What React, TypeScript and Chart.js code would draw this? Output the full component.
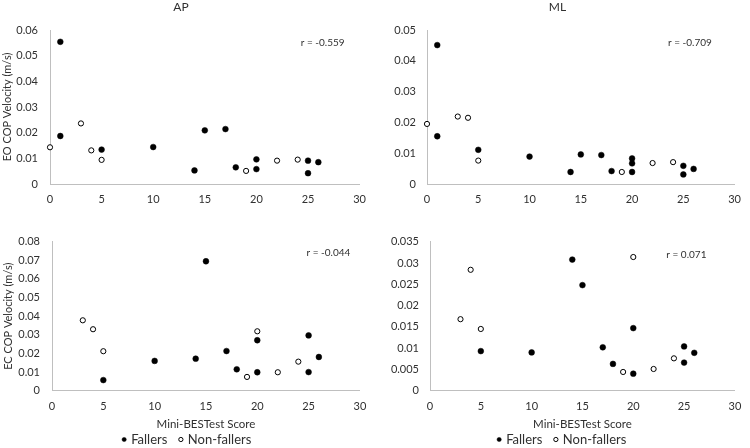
import React, { useEffect, useRef } from "react";
import { Chart, registerables } from "chart.js";

Chart.register(...registerables);

// ---------- data ----------
const xTickLabels = ["0", "5", "10", "15", "20", "25", "30"];

// AP, eyes open
const apEoFallersX = [1, 1, 5, 10, 14, 15, 17, 18, 20, 20, 25, 25, 26];
const apEoFallersY = [0.0554, 0.0187, 0.0134, 0.0144, 0.0053, 0.0209, 0.0214, 0.0065, 0.0096, 0.0058, 0.0091, 0.0042, 0.0085];
const apEoNonX = [0, 3, 4, 5, 19, 22, 24];
const apEoNonY = [0.0143, 0.0236, 0.0131, 0.0094, 0.0051, 0.0091, 0.0095];
const apEoTicks = ["0", "0.01", "0.02", "0.03", "0.04", "0.05", "0.06"];

// ML, eyes open
const mlEoFallersX = [1, 1, 5, 10, 14, 15, 17, 18, 20, 20, 20, 25, 25, 26];
const mlEoFallersY = [0.0451, 0.0155, 0.0111, 0.0089, 0.0039, 0.0096, 0.0094, 0.0042, 0.0083, 0.0067, 0.0039, 0.0059, 0.0031, 0.0049];
const mlEoNonX = [0, 3, 4, 5, 19, 22, 24];
const mlEoNonY = [0.0195, 0.0219, 0.0215, 0.0076, 0.0039, 0.0068, 0.0071];
const mlEoTicks = ["0", "0.01", "0.02", "0.03", "0.04", "0.05"];

// AP, eyes closed
const apEcFallersX = [5, 10, 14, 15, 17, 18, 20, 20, 25, 25, 26];
const apEcFallersY = [0.0057, 0.016, 0.0172, 0.0695, 0.0213, 0.0115, 0.0271, 0.0099, 0.0297, 0.01, 0.0181];
const apEcNonX = [3, 4, 5, 19, 20, 22, 24];
const apEcNonY = [0.0378, 0.033, 0.0212, 0.0074, 0.0319, 0.0099, 0.0156];
const apEcTicks = ["0", "0.01", "0.02", "0.03", "0.04", "0.05", "0.06", "0.07", "0.08"];

// ML, eyes closed
const mlEcFallersX = [5, 10, 14, 15, 17, 18, 20, 20, 25, 25, 26];
const mlEcFallersY = [0.0093, 0.009, 0.0308, 0.0248, 0.0102, 0.0063, 0.0147, 0.004, 0.0104, 0.0066, 0.0089];
const mlEcNonX = [3, 4, 5, 19, 20, 22, 24];
const mlEcNonY = [0.0168, 0.0284, 0.0145, 0.0044, 0.0314, 0.0051, 0.0076];
const mlEcTicks = ["0", "0.005", "0.01", "0.015", "0.02", "0.025", "0.03", "0.035"];

const rLabels = ["r = -0.559", "r = -0.709", "r = -0.044", "r = 0.071"];
// anchor of the r label (left edge, vertical middle) in data units
const rAnchorX = [24.3, 23.5, 24.8, 23.25];
const rAnchorY = [0.055, 0.0459, 0.0743, 0.032];

const seriesNames = ["Fallers", "Non-fallers"];
const columnTitles = ["AP", "ML"];
const rowTitles = ["EO COP Velocity (m/s)", "EC COP Velocity (m/s)"];
const xAxisTitle = "Mini-BESTest Score";

// ---------- styling ----------
const FONT = "Lato, 'Open Sans', sans-serif";
const TEXT = "#303030";
const AXIS = "#bfbfbf";

type Panel = {
  fx: number[];
  fy: number[];
  nx: number[];
  ny: number[];
  ticks: string[];
  r: number;
  title?: string;
  yTitle?: string;
  bottom: boolean;
  left: number;
  top: number;
  width: number;
  height: number;
  yAxisWidth: number;
  yTickPad: number;
  yTitlePad: number;
  padLeft: number;
  padRight: number;
  padTop: number;
  xAxisHeight: number;
  xTickPad: number;
};

const panels: Panel[] = [
  {
    fx: apEoFallersX, fy: apEoFallersY, nx: apEoNonX, ny: apEoNonY, ticks: apEoTicks, r: 0,
    title: columnTitles[0], yTitle: rowTitles[0], bottom: false,
    left: 0, top: 0, width: 375, height: 215,
    yAxisWidth: 50, yTickPad: 12, yTitlePad: 1.2, padLeft: 0, padRight: 13, padTop: 0,
    xAxisHeight: 31, xTickPad: 9,
  },
  {
    fx: mlEoFallersX, fy: mlEoFallersY, nx: mlEoNonX, ny: mlEoNonY, ticks: mlEoTicks, r: 1,
    title: columnTitles[1], bottom: false,
    left: 375, top: 0, width: 375, height: 215,
    yAxisWidth: 52, yTickPad: 11, yTitlePad: 0, padLeft: 0, padRight: 10, padTop: 0,
    xAxisHeight: 31, xTickPad: 9,
  },
  {
    fx: apEcFallersX, fy: apEcFallersY, nx: apEcNonX, ny: apEcNonY, ticks: apEcTicks, r: 2,
    yTitle: rowTitles[1], bottom: true,
    left: 0, top: 215, width: 375, height: 241,
    yAxisWidth: 41, yTickPad: 12, yTitlePad: -9.3, padLeft: 11, padRight: 11, padTop: 26.7,
    xAxisHeight: 29.3, xTickPad: 8.7,
  },
  {
    fx: mlEcFallersX, fy: mlEcFallersY, nx: mlEcNonX, ny: mlEcNonY, ticks: mlEcTicks, r: 3,
    bottom: true,
    left: 375, top: 215, width: 375, height: 241,
    yAxisWidth: 47, yTickPad: 11, yTitlePad: 0, padLeft: 8, padRight: 8, padTop: 26.7,
    xAxisHeight: 29.3, xTickPad: 8.7,
  },
];

function toPoints(xs: number[], ys: number[]) {
  return xs.map((x, i) => ({ x, y: ys[i] }));
}

function ScatterPanel({ p }: { p: Panel }) {
  const ref = useRef<HTMLCanvasElement | null>(null);

  useEffect(() => {
    if (!ref.current) return;
    const yMax = Number(p.ticks[p.ticks.length - 1]);
    const yStep = Number(p.ticks[1]);
    const xMax = Number(xTickLabels[xTickLabels.length - 1]);
    const xStep = Number(xTickLabels[1]);

    const rPlugin = {
      id: "rLabel",
      afterDatasetsDraw(chart: any) {
        const { ctx, scales } = chart;
        const x = scales.x.getPixelForValue(rAnchorX[p.r]);
        const y = scales.y.getPixelForValue(rAnchorY[p.r]);
        ctx.save();
        ctx.font = `10px ${FONT}`;
        ctx.fillStyle = TEXT;
        ctx.textAlign = "left";
        ctx.textBaseline = "middle";
        ctx.fillText(rLabels[p.r], x, y);
        ctx.restore();
      },
    };

    const chart = new Chart(ref.current, {
      type: "scatter",
      data: {
        datasets: [
          {
            label: seriesNames[0],
            data: toPoints(p.fx, p.fy),
            backgroundColor: "#000000",
            borderColor: "#000000",
            borderWidth: 0.5,
            pointRadius: 2.9,
            clip: false as any,
          },
          {
            label: seriesNames[1],
            data: toPoints(p.nx, p.ny),
            backgroundColor: "#ffffff",
            borderColor: "#000000",
            borderWidth: 1,
            pointRadius: 2.6,
            clip: false as any,
          },
        ],
      },
      options: {
        animation: false,
        responsive: false,
        maintainAspectRatio: false,
        devicePixelRatio: 1,
        events: [],
        layout: { padding: { left: p.padLeft, right: p.padRight, top: p.padTop, bottom: 0 } },
        plugins: {
          title: {
            display: !!p.title,
            text: p.title || "",
            color: TEXT,
            font: { family: FONT, size: 12, weight: "normal" as any },
            padding: { top: 0, bottom: 15.6 },
          },
          legend: {
            display: p.bottom,
            position: "bottom",
            labels: {
              usePointStyle: true,
              pointStyle: "circle",
              boxWidth: 1,
              boxHeight: 3,
              padding: 13,
              color: TEXT,
              font: { family: FONT, size: 13 },
            },
          },
          tooltip: { enabled: false },
        },
        scales: {
          x: {
            type: "linear",
            min: 0,
            max: xMax,
            ticks: {
              stepSize: xStep,
              padding: p.xTickPad,
              color: TEXT,
              font: { family: FONT, size: 11 },
              callback: (_v: any, i: number) => xTickLabels[i],
            },
            grid: { display: false, drawTicks: false },
            border: { display: true, color: AXIS, width: 1 },
            title: {
              display: p.bottom,
              text: xAxisTitle,
              color: TEXT,
              font: { family: FONT, size: 11.5 },
              padding: { top: 0, bottom: -11.2 },
            },
            afterFit: (s: any) => {
              s.height = p.xAxisHeight;
            },
          },
          y: {
            type: "linear",
            min: 0,
            max: yMax,
            ticks: {
              stepSize: yStep,
              padding: p.yTickPad,
              color: TEXT,
              font: { family: FONT, size: 11 },
              callback: (_v: any, i: number) => p.ticks[i],
            },
            grid: { display: false, drawTicks: false },
            border: { display: true, color: AXIS, width: 1 },
            title: {
              display: !!p.yTitle,
              text: p.yTitle || "",
              color: TEXT,
              font: { family: FONT, size: 11 },
              padding: { top: p.yTitlePad, bottom: 0 },
            },
            afterFit: (s: any) => {
              s.width = p.yAxisWidth;
            },
          },
        },
      } as any,
      plugins: [rPlugin],
    });
    return () => chart.destroy();
  }, [p]);

  return (
    <canvas
      ref={ref}
      width={p.width}
      height={p.height}
      style={{
        position: "absolute",
        left: p.left,
        top: p.top,
        width: p.width,
        height: p.height,
        display: "block",
      }}
    />
  );
}

export default function App() {
  return (
    <div
      style={{
        position: "absolute",
        left: 0,
        top: 0,
        width: 750,
        height: 448,
        overflow: "hidden",
        background: "#ffffff",
      }}
    >
      {panels.map((p, i) => (
        <ScatterPanel key={i} p={p} />
      ))}
    </div>
  );
}
